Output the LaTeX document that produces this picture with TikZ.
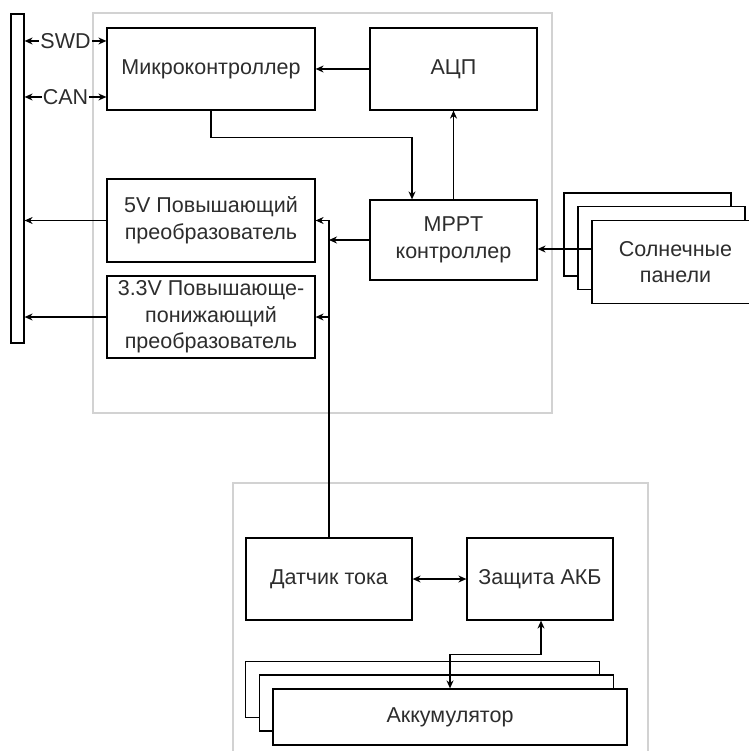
\documentclass[tikz,border=0pt]{standalone}
\usepackage{fontspec}
\setmainfont{Liberation Sans}
\usetikzlibrary{arrows.meta}
\definecolor{framegray}{RGB}{210,210,210}
\definecolor{txtgray}{RGB}{45,45,45}

\begin{document}
\begin{tikzpicture}[x=1pt,y=-1pt,
  blk/.style={draw=black,line width=1.2pt,fill=white,text=txtgray,align=center,inner sep=0pt,
    font=\fontsize{21.5}{26.5}\selectfont},
  lnk/.style={line width=1.3pt,-{Stealth[length=8pt,width=7pt]}},
  dlnk/.style={line width=1.3pt,{Stealth[length=8pt,width=7pt]}-{Stealth[length=8pt,width=7pt]}},
  sig/.style={fill=white,text=txtgray,inner sep=1pt,font=\fontsize{21.5}{24}\selectfont}]
\tikzstyle{frame}=[draw=framegray,line width=2.5pt]
\useasboundingbox (0,0) rectangle (748,751);
% groups
\draw [frame] (93,13) rectangle (552,413);
\draw [frame] (233,483) rectangle (648,775);
% left bus
\node [draw=black,line width=1.2pt,minimum width=13pt,minimum height=329pt,inner sep=0pt] (bus) at (17.5,178.5) {};
% upper board
\node [blk,minimum width=208pt,minimum height=82pt] (mcu) at (211,69) {Микроконтроллер};
\node [blk,minimum width=167pt,minimum height=82pt] (adc) at (453.5,69) {АЦП};
\node [blk,minimum width=167pt,minimum height=80pt] (mppt) at (453.5,240) {MPPT\\контроллер};
\node [blk,minimum width=208pt,minimum height=83pt] (boost) at (211,220.5) {5V Повышающий\\преобразователь};
\node [blk,minimum width=208pt,minimum height=82pt] (buckboost) at (211,317) {3.3V Повышающе-\\понижающий\\преобразователь};
% solar panels
\node [blk,minimum width=167pt,minimum height=83pt] (panel3) at (647.5,234.5) {};
\node [blk,minimum width=167pt,minimum height=83pt] (panel2) at (661.5,248) {};
\node [blk,minimum width=167pt,minimum height=83pt] (panel) at (675.5,262) {Солнечные\\панели};
% battery board
\node [blk,minimum width=166pt,minimum height=82pt] (sensor) at (329,579) {Датчик тока};
\node [blk,minimum width=146pt,minimum height=82pt] (protect) at (540,579) {Защита АКБ};
\node [blk,minimum width=354pt,minimum height=56pt] (bat3) at (422.5,689.5) {};
\node [blk,minimum width=354pt,minimum height=56pt] (bat2) at (436.5,703) {};
\node [blk,minimum width=354pt,minimum height=56pt] (bat) at (450,717) {Аккумулятор};
% links
\draw [dlnk] (bus.east |- 0,41) -- node [sig] {SWD} (mcu.west |- 0,41);
\draw [dlnk] (bus.east |- 0,97) -- node [sig] {CAN} (mcu.west |- 0,97);
\draw [lnk] (adc.west) -- (mcu.east);
\draw [lnk] (mcu.south) -- ++(0,27) -| ([xshift=-41.5pt]mppt.north);
\draw [lnk] (mppt.north) -- (adc.south);
\draw [lnk] (mppt.west) -- (sensor.north |- mppt.west);
\draw [lnk] (sensor.north) |- (boost.east);
\draw [lnk] (sensor.north |- buckboost.east) -- (buckboost.east);
\draw [lnk] (boost.west) -- (bus.east |- boost.west);
\draw [lnk] (buckboost.west) -- (bus.east |- buckboost.west);
\draw [lnk] (panel.west |- 0,249) -- (mppt.east |- 0,249);
\draw [dlnk] (sensor.east) -- (protect.west);
\draw [dlnk] ([xshift=1pt]protect.south) -- ++(0,34) -| (bat.north);
\end{tikzpicture}
\end{document}
